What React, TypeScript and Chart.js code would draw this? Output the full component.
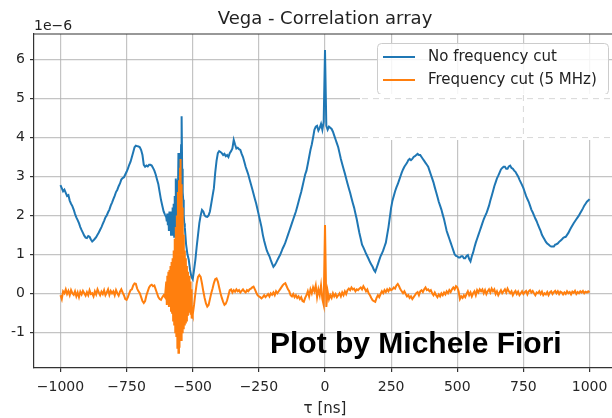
import React, { useEffect, useRef } from "react";
import { Chart, registerables } from "chart.js";

Chart.register(...registerables);

// Sample grid of the correlation array (ns)
const TAU_START = -1000;
const TAU_STEP = 5;

// Series values (×1e-6), one value per 5 ns from -1000 to 1000
const noFrequencyCut = [
  2.78, 2.7, 2.62, 2.66, 2.58, 2.5, 2.52, 2.38, 2.3, 2.24, 2.15, 2.04, 1.95, 1.88, 1.8, 1.7, 1.62, 1.55, 1.48, 1.43,
  1.42, 1.47, 1.45, 1.38, 1.33, 1.36, 1.4, 1.44, 1.5, 1.56, 1.63, 1.7, 1.78, 1.86, 1.95, 2.0, 2.08, 2.15, 2.25, 2.33,
  2.42, 2.5, 2.6, 2.66, 2.75, 2.82, 2.92, 2.96, 2.98, 3.05, 3.12, 3.2, 3.3, 3.38, 3.5, 3.62, 3.75, 3.79, 3.78, 3.77,
  3.75, 3.68, 3.55, 3.3, 3.25, 3.28, 3.26, 3.3, 3.3, 3.28, 3.22, 3.15, 3.05, 2.92, 2.8, 2.6, 2.4, 2.25, 2.1, 2.02,
  1.95, 1.82, 2.1, 1.6, 2.2, 1.5, 2.4, 1.4, 2.95, 1.6, 3.6, 2.6, 4.55, 2.4, 1.7, 1.25, 1.0, 0.86, 0.6, 0.42,
  0.36, 0.6, 0.86, 1.2, 1.5, 1.8, 2.0, 2.14, 2.1, 2.0, 1.97, 1.96, 2.0, 2.1, 2.3, 2.5, 2.7, 3.1, 3.4, 3.6,
  3.65, 3.63, 3.6, 3.55, 3.58, 3.52, 3.55, 3.5, 3.6, 3.65, 3.72, 3.94, 3.82, 3.72, 3.74, 3.7, 3.68, 3.58, 3.5, 3.38,
  3.25, 3.15, 3.05, 2.92, 2.8, 2.68, 2.55, 2.42, 2.3, 2.15, 2.0, 1.85, 1.7, 1.5, 1.35, 1.22, 1.1, 1.02, 0.95, 0.85,
  0.76, 0.68, 0.72, 0.78, 0.85, 0.92, 0.98, 1.06, 1.15, 1.22, 1.3, 1.4, 1.5, 1.6, 1.7, 1.8, 1.9, 2.0, 2.1, 2.22,
  2.35, 2.48, 2.6, 2.75, 2.9, 3.05, 3.15, 3.32, 3.5, 3.68, 3.82, 4.0, 4.2, 4.28, 4.3, 4.18, 4.25, 4.35, 4.2, 4.4,
  6.25,
  4.3, 4.2, 4.28, 4.25, 4.22, 4.15, 4.05, 3.95, 3.85, 3.75, 3.6, 3.45, 3.32, 3.2, 3.08, 2.95, 2.82, 2.7, 2.58, 2.45,
  2.32, 2.2, 2.05, 1.9, 1.72, 1.55, 1.4, 1.25, 1.18, 1.1, 1.02, 0.95, 0.88, 0.8, 0.74, 0.68, 0.6, 0.55, 0.65, 0.75,
  0.85, 0.95, 1.02, 1.1, 1.2, 1.3, 1.5, 1.7, 1.95, 2.2, 2.38, 2.5, 2.62, 2.72, 2.8, 2.9, 3.0, 3.1, 3.18, 3.25,
  3.3, 3.35, 3.42, 3.45, 3.42, 3.45, 3.5, 3.52, 3.55, 3.58, 3.55, 3.55, 3.5, 3.45, 3.4, 3.35, 3.3, 3.25, 3.15, 3.05,
  2.95, 2.85, 2.72, 2.6, 2.48, 2.35, 2.25, 2.15, 2.02, 1.9, 1.75, 1.6, 1.5, 1.4, 1.3, 1.2, 1.1, 1.0, 0.96, 0.95,
  0.92, 0.92, 0.95, 0.95, 0.9, 0.9, 0.96, 0.98, 0.88, 0.82, 0.95, 1.05, 1.18, 1.3, 1.4, 1.5, 1.6, 1.7, 1.8, 1.9,
  1.98, 2.05, 2.15, 2.25, 2.38, 2.5, 2.62, 2.75, 2.85, 2.95, 3.02, 3.1, 3.18, 3.22, 3.25, 3.25, 3.2, 3.2, 3.26, 3.28,
  3.22, 3.2, 3.15, 3.12, 3.06, 3.0, 2.92, 2.85, 2.78, 2.7, 2.6, 2.5, 2.42, 2.35, 2.25, 2.15, 2.08, 2.0, 1.92, 1.85,
  1.76, 1.68, 1.6, 1.5, 1.44, 1.38, 1.32, 1.28, 1.25, 1.22, 1.2, 1.2, 1.2, 1.25, 1.26, 1.28, 1.32, 1.35, 1.38, 1.42,
  1.44, 1.45, 1.5, 1.55, 1.62, 1.68, 1.74, 1.8, 1.85, 1.9, 1.95, 2.0, 2.06, 2.12, 2.18, 2.25, 2.3, 2.35, 2.38, 2.42,
];

const frequencyCut5MHz = [
  -0.05, -0.15, 0.05, 0.0, 0.1, -0.02, 0.06, -0.05, 0.08, 0.0, -0.04, 0.05, -0.08, 0.02, -0.1, 0.04, -0.03, 0.06, 0.0, -0.06,
  0.03, -0.05, 0.08, -0.02, 0.0, -0.08, 0.05, -0.03, 0.1, 0.02, -0.05, 0.04, -0.02, 0.08, -0.05, 0.02, 0.1, -0.04, 0.06, 0.0,
  0.05, -0.05, 0.08, 0.0, -0.06, 0.04, 0.1, 0.02, -0.05, -0.15, -0.17, -0.1, 0.0, 0.08, 0.1, 0.2, 0.25, 0.24, 0.12, 0.05,
  0.0, -0.1, -0.2, -0.25, -0.2, -0.05, 0.05, 0.15, 0.2, 0.22, 0.18, 0.2, 0.1, 0.0, -0.1, -0.15, -0.17, -0.1, -0.05, -0.1,
  -0.25, 0.4, -0.35, 0.6, -0.45, 0.9, -0.6, 1.2, -1.0, -1.53, 2.4, 3.45, -1.2, 1.8, -0.9, 1.0, -0.7, 0.6, -0.4, -0.65,
  -0.55, -0.3, 0.0, 0.25, 0.42, 0.47, 0.42, 0.25, 0.05, -0.12, -0.26, -0.34, -0.3, -0.15, 0.0, 0.12, 0.26, 0.36, 0.38, 0.3,
  0.15, 0.0, -0.12, -0.22, -0.3, -0.27, -0.18, -0.05, 0.08, 0.1, 0.02, 0.08, 0.04, 0.1, 0.05, 0.08, 0.02, 0.06, 0.1, 0.05,
  0.02, 0.08, 0.05, 0.1, 0.12, 0.15, 0.17, 0.1, 0.02, -0.05, -0.08, -0.1, -0.13, -0.1, -0.05, -0.1, -0.06, -0.02, -0.08, 0.0,
  -0.04, 0.02, -0.05, 0.05, 0.0, 0.05, 0.1, 0.15, 0.2, 0.24, 0.26, 0.18, 0.1, 0.05, -0.05, -0.08, -0.02, -0.1, -0.05, -0.12,
  -0.08, -0.15, -0.1, -0.2, -0.22, -0.12, -0.05, 0.05, -0.08, 0.1, 0.0, 0.15, 0.05, 0.2, -0.1, 0.1, -0.05, 0.2, -0.15, -0.3,
  1.75,
  -0.35, 0.05, -0.15, -0.05, -0.12, 0.0, -0.08, -0.02, -0.1, -0.05, 0.0, -0.08, 0.02, -0.05, 0.05, -0.02, 0.08, 0.12, 0.08, 0.15,
  0.1, 0.12, 0.05, 0.1, 0.08, 0.12, 0.15, 0.1, 0.18, 0.12, 0.05, 0.1, 0.0, -0.05, -0.12, -0.18, -0.2, -0.22, -0.12, -0.05,
  -0.1, -0.02, 0.05, 0.0, 0.08, 0.03, 0.1, 0.05, 0.12, 0.08, 0.1, 0.15, 0.12, 0.2, 0.24, 0.18, 0.1, 0.05, 0.0, 0.05,
  -0.02, -0.08, -0.05, -0.12, -0.08, -0.15, -0.1, -0.05, 0.0, 0.03, -0.05, 0.05, 0.08, 0.03, 0.1, 0.15, 0.08, 0.1, 0.05, 0.08,
  0.0, -0.05, 0.02, -0.05, -0.1, -0.03, -0.08, 0.0, -0.05, 0.02, -0.03, 0.05, 0.0, 0.08, 0.03, 0.1, 0.15, 0.1, 0.18, 0.15,
  0.05, -0.15, -0.08, -0.12, -0.05, -0.1, -0.02, 0.05, -0.05, 0.02, -0.08, 0.0, 0.05, -0.05, 0.08, 0.02, 0.1, 0.05, 0.1, 0.0,
  0.08, -0.02, 0.05, 0.1, 0.02, 0.12, 0.05, 0.1, -0.02, 0.05, -0.05, 0.02, 0.08, 0.0, 0.05, 0.1, 0.02, 0.12, 0.05, 0.0,
  0.05, -0.05, 0.02, 0.06, -0.02, 0.04, -0.05, 0.0, 0.05, -0.02, 0.03, 0.06, -0.03, 0.05, 0.08, 0.02, 0.06, 0.0, -0.05, 0.02,
  0.0, 0.05, -0.02, 0.04, -0.05, 0.0, -0.03, 0.03, -0.05, 0.02, 0.05, -0.02, 0.03, 0.06, 0.0, 0.05, -0.02, 0.04, 0.02, -0.03,
  0.02, -0.02, 0.05, 0.0, 0.03, -0.03, 0.04, 0.01, 0.06, -0.02, 0.03, 0.0, 0.05, 0.02, 0.06, 0.0, 0.04, 0.02, 0.05, 0.02,
];

// Finer 2 ns sampling around the burst near -550 ns
const BURST_STEP = 2;
const blueBurstStart = -600;
const noFrequencyCutBurst = [
  1.95, 1.85, 2.05, 1.75, 2.0, 1.6, 2.1, 1.65, 2.05, 1.5, 2.1, 1.55, 2.2, 1.5, 2.3, 1.45, 2.5, 1.6,
  2.95, 1.7, 2.9, 1.8, 2.5, 3.6, 2.2, 3.5, 2.4, 3.0, 3.8, 4.55, 3.2, 2.6, 2.4, 2.0, 1.8, 1.7,
];
const orangeBurstStart = -600;
const frequencyCutBurst = [
  0.3, -0.3, 0.45, -0.25, 0.55, -0.35, 0.6, -0.3, 0.7, -0.45, 0.8, -0.5, 0.9, -0.7, 1.1, -0.8, 1.4, -1.0,
  1.7, -1.1, 2.0, -1.4, 2.6, -1.53, 2.9, -1.4, 3.2, 3.45, -1.2, 2.8, -1.0, 2.2, -0.9, 1.5, -0.8, 1.1,
  -0.75, 0.9, -0.7, 0.7, -0.55, 0.55, -0.45, 0.45, -0.5, 0.3, -0.55, 0.1, -0.65, -0.5, -0.55,
];

const tau = noFrequencyCut.map((_, i) => TAU_START + i * TAU_STEP);

function seriesPoints(coarse: number[], burst: number[], burstStart: number) {
  const burstEnd = burstStart + (burst.length - 1) * BURST_STEP;
  const pts: { x: number; y: number }[] = [];
  tau.forEach((t, i) => {
    if (t < burstStart || t > burstEnd) pts.push({ x: t, y: coarse[i] });
  });
  burst.forEach((v, j) => pts.push({ x: burstStart + j * BURST_STEP, y: v }));
  pts.sort((a, b) => a.x - b.x);
  return pts;
}

const seriesLabels = ["No frequency cut", "Frequency cut (5 MHz)"];
const seriesColors = ["#1f77b4", "#ff7f0e"];
const chartTitle = "Vega - Correlation array";
const xAxisLabel = "τ [ns]";
const yScaleNote = "1e−6";
const creditText = "Plot by Michele Fiori";
const xLimits = [-1100, 1100];
const yLimits = [-1.92, 6.66];
const xTickValues = [-1000, -750, -500, -250, 0, 250, 500, 750, 1000];
const yTickValues = [-1, 0, 1, 2, 3, 4, 5, 6];

const FONT = "'DejaVu Sans', sans-serif";

const decorPlugin = {
  id: "decor",
  afterDraw(chart: any) {
    const { ctx, chartArea: a, scales } = chart;
    ctx.save();
    // top / right spines
    ctx.strokeStyle = "#333";
    ctx.lineWidth = 1.2;
    ctx.beginPath();
    ctx.moveTo(a.left, a.top);
    ctx.lineTo(a.right, a.top);
    ctx.lineTo(a.right, a.bottom);
    ctx.stroke();

    // title
    ctx.fillStyle = "#222";
    ctx.font = `18px ${FONT}`;
    ctx.textAlign = "center";
    ctx.textBaseline = "middle";
    ctx.fillText(chartTitle, (a.left + a.right) / 2, 19);

    // offset text
    ctx.font = `14px ${FONT}`;
    ctx.textAlign = "left";
    ctx.fillText(yScaleNote, a.left, 26);

    // legend
    const lx = 377, ly = 43, lw = 231, lh = 51;
    ctx.fillStyle = "rgba(255,255,255,0.85)";
    ctx.strokeStyle = "#cccccc";
    ctx.lineWidth = 1;
    ctx.beginPath();
    ctx.roundRect(lx + 0.5, ly + 0.5, lw, lh, 4);
    ctx.fill();
    ctx.stroke();
    ctx.font = `15px ${FONT}`;
    ctx.textBaseline = "middle";
    seriesLabels.forEach((lab, i) => {
      const y = 57 + i * 23;
      ctx.strokeStyle = seriesColors[i];
      ctx.lineWidth = 2;
      ctx.beginPath();
      ctx.moveTo(383, y);
      ctx.lineTo(415, y);
      ctx.stroke();
      ctx.fillStyle = "#222";
      ctx.fillText(lab, 428, y);
    });

    // white patch over the lower legend area
    ctx.fillStyle = "#ffffff";
    ctx.fillRect(360, 94, 260, 46);
    ctx.strokeStyle = "rgba(190,190,190,0.6)";
    ctx.lineWidth = 1;
    ctx.setLineDash([6, 5]);
    const y5 = scales.y.getPixelForValue(5);
    const y4 = scales.y.getPixelForValue(4);
    const x750 = scales.x.getPixelForValue(750);
    ctx.beginPath();
    ctx.moveTo(362, y5);
    ctx.lineTo(612, y5);
    ctx.moveTo(362, y4);
    ctx.lineTo(612, y4);
    ctx.moveTo(x750, 95);
    ctx.lineTo(x750, 139);
    ctx.stroke();
    ctx.setLineDash([]);

    // credit text
    ctx.fillStyle = "#000";
    ctx.font = "bold 30px 'Liberation Sans', Arial, sans-serif";
    ctx.textAlign = "left";
    ctx.textBaseline = "alphabetic";
    ctx.fillText(creditText, 270, 353);
    ctx.restore();
  },
};

export default function App() {
  const ref = useRef<HTMLCanvasElement | null>(null);
  useEffect(() => {
    if (!ref.current) return;
    const chart = new Chart(ref.current, {
      type: "line",
      data: {
        datasets: [
          {
            label: seriesLabels[1],
            data: seriesPoints(frequencyCut5MHz, frequencyCutBurst, orangeBurstStart),
            borderColor: seriesColors[1],
            borderWidth: 2,
            pointRadius: 0,
            order: 0,
          },
          {
            label: seriesLabels[0],
            data: seriesPoints(noFrequencyCut, noFrequencyCutBurst, blueBurstStart),
            borderColor: seriesColors[0],
            borderWidth: 2,
            pointRadius: 0,
            order: 1,
          },
        ],
      },
      options: {
        responsive: false,
        animation: false,
        devicePixelRatio: 1,
        layout: { padding: { top: 34, left: 0, right: 0, bottom: 0 } },
        plugins: { legend: { display: false }, title: { display: false }, tooltip: { enabled: false } },
        scales: {
          x: {
            type: "linear",
            min: xLimits[0],
            max: xLimits[1],
            afterFit: (s: any) => { s.height = 50; },
            afterBuildTicks: (s: any) => { s.ticks = xTickValues.map((v) => ({ value: v })); },
            ticks: {
              autoSkip: false,
              maxRotation: 0,
              padding: 7,
              color: "#262626",
              font: { family: FONT, size: 14 },
              callback: (v: any) => (v < 0 ? "−" + Math.abs(v) : String(v)),
            },
            grid: { color: "rgba(176,176,176,0.75)", lineWidth: 1.2, tickLength: 4, tickColor: "#333" },
            border: { color: "#333", width: 1.2 },
            title: { display: true, text: xAxisLabel, color: "#262626", font: { family: FONT, size: 15 }, padding: { top: 0, bottom: 0 } },
          },
          y: {
            type: "linear",
            min: yLimits[0],
            max: yLimits[1],
            afterFit: (s: any) => { s.width = 34; },
            afterBuildTicks: (s: any) => { s.ticks = yTickValues.map((v) => ({ value: v })); },
            ticks: {
              autoSkip: false,
              padding: 5,
              color: "#262626",
              font: { family: FONT, size: 14 },
              callback: (v: any) => String(v),
            },
            grid: { color: "rgba(176,176,176,0.75)", lineWidth: 1.2, tickLength: 4, tickColor: "#333" },
            border: { color: "#333", width: 1.2 },
          },
        },
      },
      plugins: [decorPlugin],
    });
    return () => chart.destroy();
  }, []);
  return (
    <div style={{ position: "fixed", left: 0, top: 0, width: 612, height: 418, overflow: "hidden", background: "#fff" }}>
      <canvas ref={ref} width={616} height={418} style={{ display: "block" }} />
    </div>
  );
}
